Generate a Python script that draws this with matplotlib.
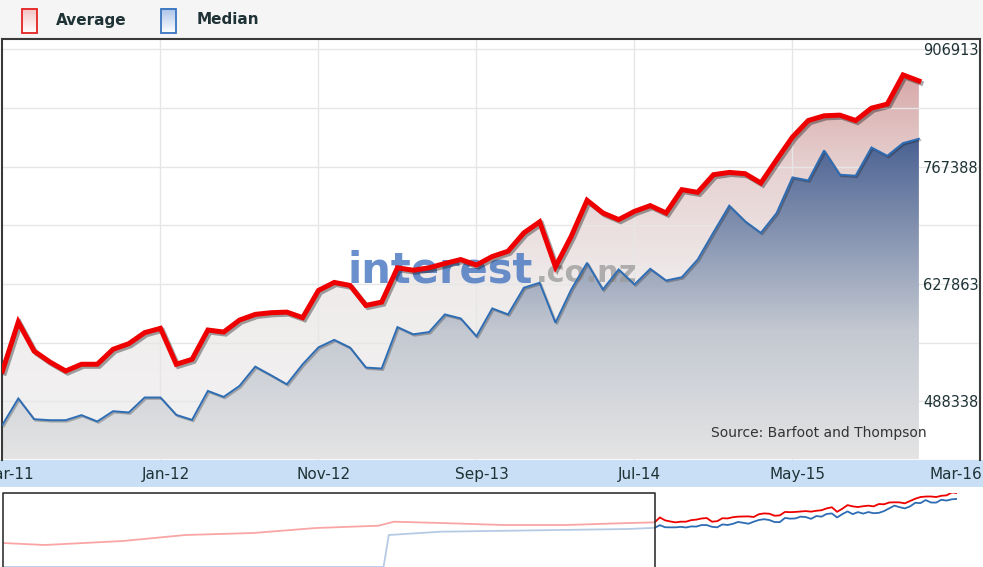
import numpy as np
import matplotlib.pyplot as plt
import matplotlib.patheffects as pe
from matplotlib.colors import LinearSegmentedColormap
from matplotlib.patches import Rectangle
from matplotlib.transforms import ScaledTranslation

W, H = 983, 567

# monthly prices, Mar-11 .. Jan-16
average = [524400, 582600, 548100, 535100, 524400, 532400, 532400, 550200, 556900, 570000,
           575100, 532400, 538300, 573100, 570700, 584900, 591700, 593700, 594400, 587800,
           620200, 629700, 626100, 602400, 606300, 647100, 644200, 647100, 652200, 656900,
           650400, 660500, 666800, 688600, 701700, 648300, 684600, 727300, 712300, 704400,
           714200, 721000, 712300, 740000, 736800, 757800, 760500, 759000, 747900, 775600,
           802500, 822200, 827800, 828600, 822200, 836900, 841700, 876400, 869300]
median = [460400, 491700, 467100, 465900, 465900, 471900, 464400, 476600, 475100, 492900,
          492900, 472200, 466300, 500700, 493600, 506600, 529600, 519300, 508600, 532400,
          552500, 561400, 552200, 528500, 527300, 576600, 568000, 570700, 591700, 586900,
          565600, 598800, 591700, 623400, 629300, 581800, 621300, 653000, 621300, 645100,
          627300, 645900, 632000, 635900, 656900, 689300, 721000, 702400, 688600, 712300,
          754600, 751000, 786600, 757800, 756600, 790200, 780300, 795400, 800500]

tick_months = [0, 10, 20, 30, 40, 50, 60]
tick_labels = ['Mar-11', 'Jan-12', 'Nov-12', 'Sep-13', 'Jul-14', 'May-15', 'Mar-16']
y_ticks = [488338, 627863, 767388, 906913]

# navigator history before Mar-11 (months relative to Mar-11)
hist_avg_months = [-125, -117, -102, -90, -77, -65, -53, -50, -41, -29, -17, -5]
hist_avg_values = [282000, 258500, 305500, 376000, 399500, 458000, 485000, 532000,
                   517000, 493500, 493500, 517000]
hist_med_months = [-125, -52, -51, -41, -5]
hist_med_values = [0, 0, 376000, 414800, 446500]

ink = '#1f3336'
red = '#ee0000'
blue = '#2e6db4'


def px(x0, y0, x1, y1):
    return [x0 / W, 1 - y1 / H, (x1 - x0) / W, (y1 - y0) / H]


def gradient_area(ax, x, y, base, top, stops, z):
    poly = ax.fill_between(x, y, base, facecolor='none', edgecolor='none', zorder=z)
    cmap = LinearSegmentedColormap.from_list('g', stops)
    grad = np.linspace(0, 1, 256).reshape(-1, 1)
    im = ax.imshow(grad, cmap=cmap, origin='lower', aspect='auto',
                   extent=[x[0], x[-1], base, top], zorder=z)
    im.set_clip_path(poly.get_paths()[0], transform=ax.transData)


fig = plt.figure(figsize=(W / 100, H / 100), dpi=100, facecolor='white')

# header with legend
hax = fig.add_axes(px(0, 0, W, 38))
hax.set_xlim(0, W)
hax.set_ylim(38, 0)
hax.axis('off')
hax.add_patch(Rectangle((0, 0), W, 38, facecolor='#f5f5f5', edgecolor='none', zorder=0))
grad = np.linspace(0, 1, 64).reshape(-1, 1)
for (x0, name, edge, ctop, tx) in [(22, 'Average', '#e52222', '#f2c2c2', 56),
                                   (161, 'Median', '#3874c0', '#aac2e8', 197)]:
    cm = LinearSegmentedColormap.from_list('i', [ctop, '#ffffff'])
    hax.imshow(grad, cmap=cm, extent=(x0, x0 + 15, 33, 8.5), aspect='auto', zorder=1)
    hax.add_patch(Rectangle((x0, 8.5), 15, 24.5, facecolor='none', edgecolor=edge,
                            linewidth=1.3, zorder=2))
    hax.text(tx, 20, name, fontsize=11, fontweight='bold', color=ink, va='center')
hax.set_xlim(0, W)
hax.set_ylim(38, 0)

# x axis band
fig.add_artist(Rectangle((0, 1 - 487 / H), 1, 27 / H, transform=fig.transFigure,
                         facecolor='#c9dff5', edgecolor='none', zorder=0))

# main chart
ax = fig.add_axes(px(2, 39, 980, 460))
x = np.arange(len(average))
ybase, ytop = 419657, 919133
gradient_area(ax, x, average, ybase, max(average),
              [(0, '#f3f3f3'), (0.45, '#efebeb'), (0.75, '#e7d2d2'), (1, '#d8a8a8')], 1)
gradient_area(ax, x, median, ybase, max(median),
              [(0, '#e4e4e4'), (0.4, '#c3c8d1'), (1, '#4a6192')], 2)

ax.plot(x, median, color=blue, lw=1.4, zorder=4, solid_joinstyle='miter',
        path_effects=[pe.SimpleLineShadow(offset=(1, -1), alpha=0.25), pe.Normal()])
ax.plot(x, average, color=red, lw=3.6, zorder=5, solid_joinstyle='miter',
        path_effects=[pe.SimpleLineShadow(offset=(1.5, -1.5), alpha=0.35), pe.Normal()])

ax.text(0.3528, 0.4228, 'interest', transform=ax.transAxes, fontsize=30,
        fontweight='bold', color='#4f7cc3', alpha=0.85, va='baseline', zorder=3)
ax.text(0.546, 0.4228, '.co.nz', transform=ax.transAxes, fontsize=22,
        fontweight='bold', color='#999999', alpha=0.75, va='baseline', zorder=3)
ax.text(0.9458, 0.0641, 'Source: Barfoot and Thompson', transform=ax.transAxes,
        fontsize=10, color='#333333', ha='right', va='center', zorder=6)

ax.set_xlim(-0.03, 61.87)
ax.set_ylim(ybase, ytop)
ax.set_xticks(tick_months)
ax.set_xticklabels(tick_labels)
ax.set_yticks(y_ticks)
ax.set_yticks([v - 69762.5 for v in y_ticks], minor=True)
ax.yaxis.tick_right()
ax.tick_params(axis='y', which='both', length=0, pad=-1, labelsize=10.5, labelcolor=ink)
for lbl in ax.get_yticklabels():
    lbl.set_horizontalalignment('right')
ax.tick_params(axis='x', length=0, pad=5, labelsize=11, labelcolor=ink)
shift = ScaledTranslation(5 / 100, 0, fig.dpi_scale_trans)
for lbl in ax.get_xticklabels():
    lbl.set_transform(lbl.get_transform() + shift)
ax.grid(True, which='both', axis='y', color='#e6e6e6', lw=1, zorder=0)
ax.grid(True, axis='x', color='#e6e6e6', lw=1, zorder=0)
gl = ax.get_xgridlines()
gl[0].set_visible(False)
gl[-1].set_visible(False)
for s in ['left', 'top', 'right']:
    ax.spines[s].set_color('#3a3a3a')
    ax.spines[s].set_linewidth(1.5)
ax.spines['bottom'].set_visible(False)

# navigator
nax = fig.add_axes(px(3, 493, 957, 600))
nav_x_avg = list(hist_avg_months) + list(range(len(average)))
nav_y_avg = list(hist_avg_values) + list(average)
nav_x_med = list(hist_med_months) + list(range(len(median)))
nav_y_med = list(hist_med_values) + list(median)
nax.plot(nav_x_avg, nav_y_avg, color=red, lw=1.3, zorder=2)
nax.plot(nav_x_med, nav_y_med, color=blue, lw=1.3, zorder=2)
k = 11750
nax.set_ylim((567 - 600) * k, (567 - 493) * k)
nax.set_xlim(-125, 58)
nax.axvspan(-125, 0, color='white', alpha=0.65, zorder=3, lw=0)
nax.plot([-125, -125, 0, 0], [nax.get_ylim()[0], nax.get_ylim()[1], nax.get_ylim()[1],
         nax.get_ylim()[0]], color='#333333', lw=1.2, zorder=4, clip_on=False)
nax.axis('off')

fig.savefig('out.png', dpi=100, facecolor='white')
